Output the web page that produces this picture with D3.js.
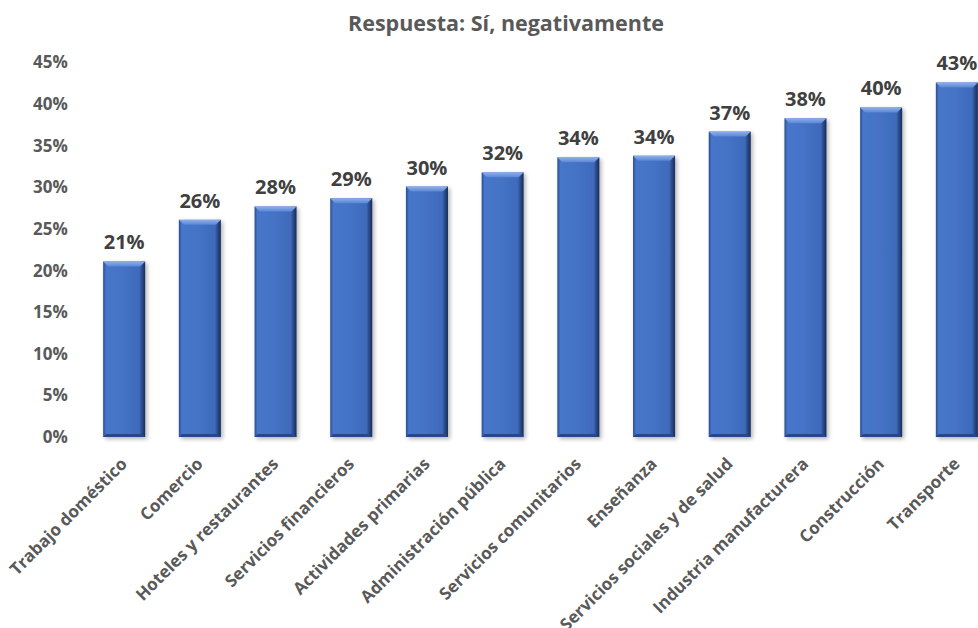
<!DOCTYPE html>
<html>
<head>
<meta charset="utf-8">
<script src="https://cdn.jsdelivr.net/npm/d3@7"></script>
<style>
  html, body { margin: 0; padding: 0; background: #ffffff; }
  svg { display: block; }
  text { font-family: "Open Sans", "DejaVu Sans", sans-serif; font-weight: 700; }
</style>
</head>
<body>
<svg id="chart" width="978" height="628"></svg>
<script>
// Share of respondents answering "Sí, negativamente", by sector
const sectors = [
  "Trabajo doméstico", "Comercio", "Hoteles y restaurantes", "Servicios financieros",
  "Actividades primarias", "Administración pública", "Servicios comunitarios",
  "Enseñanza", "Servicios sociales y de salud", "Industria manufacturera",
  "Construcción", "Transporte"
];
const shares = [0.211, 0.261, 0.277, 0.287, 0.301, 0.318, 0.336, 0.338, 0.367, 0.383, 0.396, 0.426];
const yTicks = [0, 0.05, 0.10, 0.15, 0.20, 0.25, 0.30, 0.35, 0.40, 0.45];
const chartTitle = "Respuesta: Sí, negativamente";

const svg = d3.select("#chart");
const plot = { left: 86.3, right: 994.7, top: 62.5, bottom: 437 };

const x = d3.scaleBand().domain(sectors).range([plot.left, plot.right]).paddingInner(0.445).paddingOuter(0.2225);
const y = d3.scaleLinear().domain([0, 0.45]).range([plot.bottom, plot.top]);
const pct = d3.format(".0%");

// Gradients and shadow for the bevelled bars
const defs = svg.append("defs");
const side = defs.append("linearGradient").attr("id", "barSide").attr("x1", 0).attr("x2", 1).attr("y1", 0).attr("y2", 0);
[["0%", "#2a4c8e"], ["7%", "#4676ca"], ["50%", "#4472c4"], ["86%", "#3f6abb"], ["92%", "#2b4d8c"], ["100%", "#172c58"]]
  .forEach(([o, c]) => side.append("stop").attr("offset", o).attr("stop-color", c));
const cap = defs.append("linearGradient").attr("id", "barCap").attr("x1", 0).attr("x2", 0).attr("y1", 0).attr("y2", 1);
[["0%", "#8fb0ea"], ["100%", "#5b86d6"]].forEach(([o, c]) => cap.append("stop").attr("offset", o).attr("stop-color", c));
const shadow = defs.append("filter").attr("id", "barShadow").attr("x", "-20%").attr("y", "-10%").attr("width", "150%").attr("height", "130%");
shadow.append("feGaussianBlur").attr("in", "SourceAlpha").attr("stdDeviation", 2.2);
shadow.append("feOffset").attr("dx", 2).attr("dy", 2).attr("result", "off");
shadow.append("feComponentTransfer").append("feFuncA").attr("type", "linear").attr("slope", 0.3);
const merge = shadow.append("feMerge");
merge.append("feMergeNode");
merge.append("feMergeNode").attr("in", "SourceGraphic");

// Title
svg.append("text")
  .attr("x", 506).attr("y", 31)
  .attr("text-anchor", "middle")
  .attr("font-size", 21.5)
  .attr("fill", "#595959")
  .text(chartTitle);

// Y axis (labels only)
const yAxis = svg.append("g")
  .attr("transform", `translate(${plot.left - 18.5},0)`)
  .call(d3.axisLeft(y).tickValues(yTicks).tickFormat(pct).tickSize(0).tickPadding(0));
yAxis.select(".domain").remove();
yAxis.selectAll("text")
  .attr("font-family", "'Open Sans', sans-serif")
  .attr("font-weight", 700)
  .attr("font-size", 17)
  .attr("fill", "#595959");

// X axis (rotated category labels)
const xAxis = svg.append("g")
  .attr("transform", `translate(0,${plot.bottom})`)
  .call(d3.axisBottom(x).tickSize(0).tickPadding(0));
xAxis.select(".domain").remove();
xAxis.selectAll("text")
  .attr("font-family", "'Open Sans', sans-serif")
  .attr("font-weight", 700)
  .attr("font-size", 17)
  .attr("fill", "#595959")
  .attr("text-anchor", "end")
  .attr("dy", null)
  .attr("y", 0)
  .attr("transform", "translate(4,28) rotate(-45)");

// Bars
const bars = svg.append("g").selectAll("g.bar")
  .data(sectors.map((s, i) => ({ s, v: shares[i] })))
  .join("g").attr("class", "bar").attr("filter", "url(#barShadow)");

bars.append("rect")
  .attr("x", d => x(d.s))
  .attr("y", d => y(d.v))
  .attr("width", x.bandwidth())
  .attr("height", d => y(0) - y(d.v))
  .attr("fill", "url(#barSide)");

// lighter bevel along the top edge
bars.append("path")
  .attr("fill", "url(#barCap)")
  .attr("d", d => {
    const x0 = x(d.s), x1 = x0 + x.bandwidth(), t = y(d.v), b = 5;
    return `M${x0},${t}L${x1},${t}L${x1 - b},${t + b}L${x0 + b},${t + b}Z`;
  });

// darker bevel along the bottom edge
bars.append("path")
  .attr("fill", "#27468a")
  .attr("d", d => {
    const x0 = x(d.s), x1 = x0 + x.bandwidth(), bt = y(0), b = 3;
    return `M${x0},${bt}L${x1},${bt}L${x1 - b},${bt - b}L${x0 + b},${bt - b}Z`;
  });

// Value labels
svg.append("g").selectAll("text")
  .data(sectors.map((s, i) => ({ s, v: shares[i] })))
  .join("text")
  .attr("x", d => x(d.s) + x.bandwidth() / 2)
  .attr("y", d => y(d.v) - 12)
  .attr("text-anchor", "middle")
  .attr("font-size", 20)
  .attr("fill", "#404040")
  .text(d => pct(d.v));
</script>
</body>
</html>
